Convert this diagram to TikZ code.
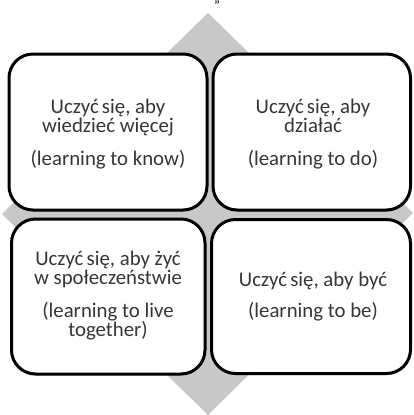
\documentclass[tikz,border=0pt]{standalone}
\usepackage{fontspec}
\setmainfont{Carlito}
\usetikzlibrary{shadows}
\definecolor{diagray}{HTML}{C8C8C8}
\definecolor{txtgray}{HTML}{363636}
\tikzset{
  cardbox/.style={draw=black, line width=3pt, fill=white, rounded corners=24pt,
    drop shadow={shadow xshift=0.6pt, shadow yshift=-1.6pt, opacity=0.35}},
  cardline/.style={anchor=base, inner sep=0pt, text=txtgray,
    font=\fontsize{20.8}{19}\selectfont},
}
\begin{document}
\begin{tikzpicture}[x=1pt,y=-1pt]
\useasboundingbox (0,0) rectangle (413,415);
% diamond
\fill[diagray] (208,13) coordinate (dT) -- (413,213) coordinate (dR) -- (208,415) coordinate (dB) -- (2,214) coordinate (dL) -- cycle;
% stray quote at top
\node[anchor=base, inner sep=0pt, font=\fontsize{14}{14}\selectfont, text=black] (quote) at (217,10.5) {”};
% boxes
\draw[cardbox] (9,54) rectangle (207,210);
\draw[cardbox] (213,54) rectangle (410.5,210);
\draw[cardbox] (11.5,219) rectangle (205,374);
\draw[cardbox] (211.5,219.5) rectangle (410.5,373.5);
% texts top-left
\node[cardline] (tl1) at (108,113) {Uczyć\hspace{-1.5pt} się, aby};
\node[cardline] (tl2) at (108,132) {wiedzieć więcej};
\node[cardline] (tl3) at (108,165) {(learning to know)};
% top-right
\node[cardline] (tr1) at (313,113) {Uczyć\hspace{-1.5pt} się, aby};
\node[cardline] (tr2) at (313,132) {działać};
\node[cardline] (tr3) at (313,165) {(learning to do)};
% bottom-left
\node[cardline] (bl1) at (108,265) {Uczyć\hspace{-1.5pt} się, aby żyć};
\node[cardline] (bl2) at (108,284.5) {w społeczeństwie};
\node[cardline] (bl3) at (108,317) {(learning to live};
\node[cardline] (bl4) at (108,336) {together)};
% bottom-right
\node[cardline] (br1) at (313,286.5) {Uczyć\hspace{-1.5pt} się, aby być};
\node[cardline] (br2) at (313,317) {(learning to be)};
\end{tikzpicture}
\end{document}
